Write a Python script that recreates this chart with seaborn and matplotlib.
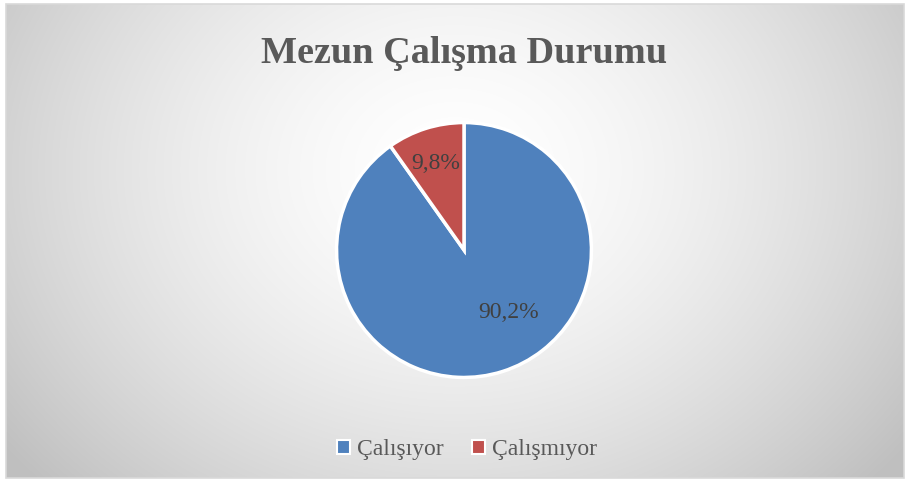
import numpy as np
import matplotlib
matplotlib.use("Agg")
import matplotlib.pyplot as plt
import seaborn as sns
from matplotlib.patches import Rectangle

sns.set_style("white")

# Data
categories = ["Çalışıyor", "Çalışmıyor"]
values = [90.2, 9.8]
value_labels = ["90,2%", "9,8%"]
colors = ["#4f81bd", "#c0504d"]
title = "Mezun Çalışma Durumu"

fig = plt.figure(figsize=(9.09, 4.83), dpi=100)
fig.patch.set_facecolor("white")

# gradient background
bg = fig.add_axes([6/909, 5/483, 898/909, 474/483])
h, w = 240, 450
yy, xx = np.mgrid[0:h, 0:w]
xn = xx / (w - 1)
yn = yy / (h - 1)
d = np.sqrt(((xn - 0.5) / 0.55) ** 2 + ((yn - 0.35) / 0.85) ** 2)
g = np.clip(1.0 - 0.2 * np.clip(d, 0, 1.4) ** 1.6, 0.75, 1.0)
img = np.dstack([g, g, g])
bg.imshow(img, aspect="auto", extent=[0, 1, 0, 1], origin="upper", interpolation="bilinear")
bg.set_xlim(0, 1)
bg.set_ylim(0, 1)
bg.axis("off")
fig.add_artist(Rectangle((6/909, 5/483), 898/909, 474/483, transform=fig.transFigure,
                         fill=False, edgecolor="#d9d9d9", linewidth=1.2))

# pie
r = 127
cx, cy = 464, 250
ax = fig.add_axes([(cx - r - 3) / 909, (483 - cy - r - 3) / 483, (2 * r + 6) / 909, (2 * r + 6) / 483])
wedges, _ = ax.pie(values, colors=colors, startangle=90, counterclock=False,
                   wedgeprops=dict(edgecolor="white", linewidth=2.5), radius=1.0)
ax.set_xlim(-1.02, 1.02)
ax.set_ylim(-1.02, 1.02)
ax.set_aspect("equal")
ax.axis("off")

# value labels (best-fit style placement inside wedges)
label_pos = [(0.35, -0.49), (-0.22, 0.68)]
for (lx, ly), lab in zip(label_pos, value_labels):
    ax.text(lx, ly, lab, ha="center", va="center",
            fontsize=17, color="#404040", family="Liberation Serif")

fig.text(464/909, 0.89, title, ha="center", va="center", fontsize=27.5, fontweight="bold",
         color="#595959", family="Liberation Serif")

# legend
handles = [Rectangle((0, 0), 1, 1, facecolor=c, edgecolor="white", linewidth=1.5) for c in colors]
leg = fig.legend(handles, categories, loc="center", bbox_to_anchor=(467/909, 1 - 450/483),
                 ncol=2, frameon=False, prop={"family": "Liberation Serif", "size": 17},
                 handlelength=0.55, handleheight=0.55, handletextpad=0.3, columnspacing=1.2)
for t in leg.get_texts():
    t.set_color("#595959")

fig.savefig("out.png", dpi=100)
